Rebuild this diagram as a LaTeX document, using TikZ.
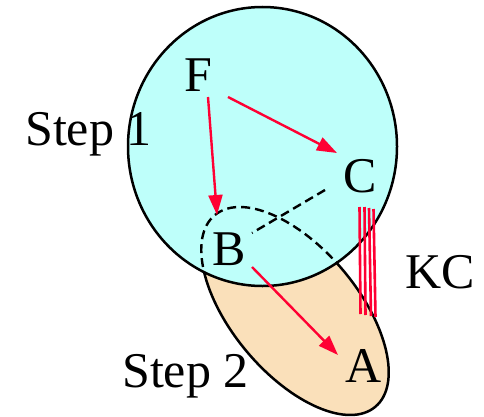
\documentclass[tikz,border=0pt]{standalone}
\usepackage{fontspec}
\setmainfont{Liberation Serif}
\usetikzlibrary{arrows.meta}
\definecolor{cyanfill}{RGB}{190,255,250}
\definecolor{tanfill}{RGB}{250,224,186}
\definecolor{arrred}{RGB}{255,0,51}
\begin{document}
\begin{tikzpicture}[x=1pt,y=1pt,
  lbl/.style={inner sep=0pt,anchor=base,font=\fontsize{50}{60}\selectfont},
  arr/.style={draw=arrred,line width=2.4pt,-{Triangle[length=20pt,width=14pt]}},
  dsh/.style={draw=black,line width=2.4pt,dash pattern=on 9pt off 5pt},
  outline/.style={draw=black,line width=2.5pt},
  kcline/.style={draw=arrred,line width=2.6pt}]
\useasboundingbox (0,0) rectangle (484,416);
% ellipse (step 2)
\fill[tanfill] (295,105) ellipse [x radius=125, y radius=63, rotate=-50];
\draw[outline] (295,105) ellipse [x radius=125, y radius=63, rotate=-50];
% circle (step 1)
\fill[cyanfill] (262.5,269.5) ellipse [x radius=134.5, y radius=139.5];
\begin{scope}
  \clip (262.5,269.5) ellipse [x radius=134.5, y radius=139.5];
  \draw[dsh] (295,105) ellipse [x radius=125, y radius=63, rotate=-50];
\end{scope}
\draw[outline] (262.5,269.5) ellipse [x radius=134.5, y radius=139.5];
% labels
\node[lbl] (F) at (198,325) {F};
\node[lbl] (C) at (360.5,224) {C};
\node[lbl] (B) at (229,151) {B};
\node[lbl] (A) at (363.5,34) {A};
\node[lbl] (KC) at (440,128) {KC};
\node[lbl,anchor=base west] (S1) at (25,271) {Step 1};
\node[lbl,anchor=base west] (S2) at (122,29) {Step 2};
% connectors
\draw[arr] ([shift={(30,-6)}]F.base) -- ([shift={(-23.5,39)}]C.base);
\draw[arr] ([shift={(10,-6)}]F.base) -- ([shift={(-12,50)}]B.base);
\draw[arr] ([shift={(23,-2)}]B.base) -- ([shift={(-25.5,27)}]A.base);
\draw[dsh] ([shift={(-35.5,2)}]C.base) -- ([shift={(23,32)}]B.base);
% KC marks
\coordinate (k1a) at (359.5,209); \coordinate (k1b) at (360.5,102);
\coordinate (k2a) at (364.5,209); \coordinate (k2b) at (365.5,101);
\coordinate (k3a) at (369,208); \coordinate (k3b) at (371,100);
\coordinate (k4a) at (373.5,207); \coordinate (k4b) at (375.5,99);
\draw[kcline] (k1a) -- (k1b);
\draw[kcline] (k2a) -- (k2b);
\draw[kcline] (k3a) -- (k3b);
\draw[kcline] (k4a) -- (k4b);
\end{tikzpicture}
\end{document}
